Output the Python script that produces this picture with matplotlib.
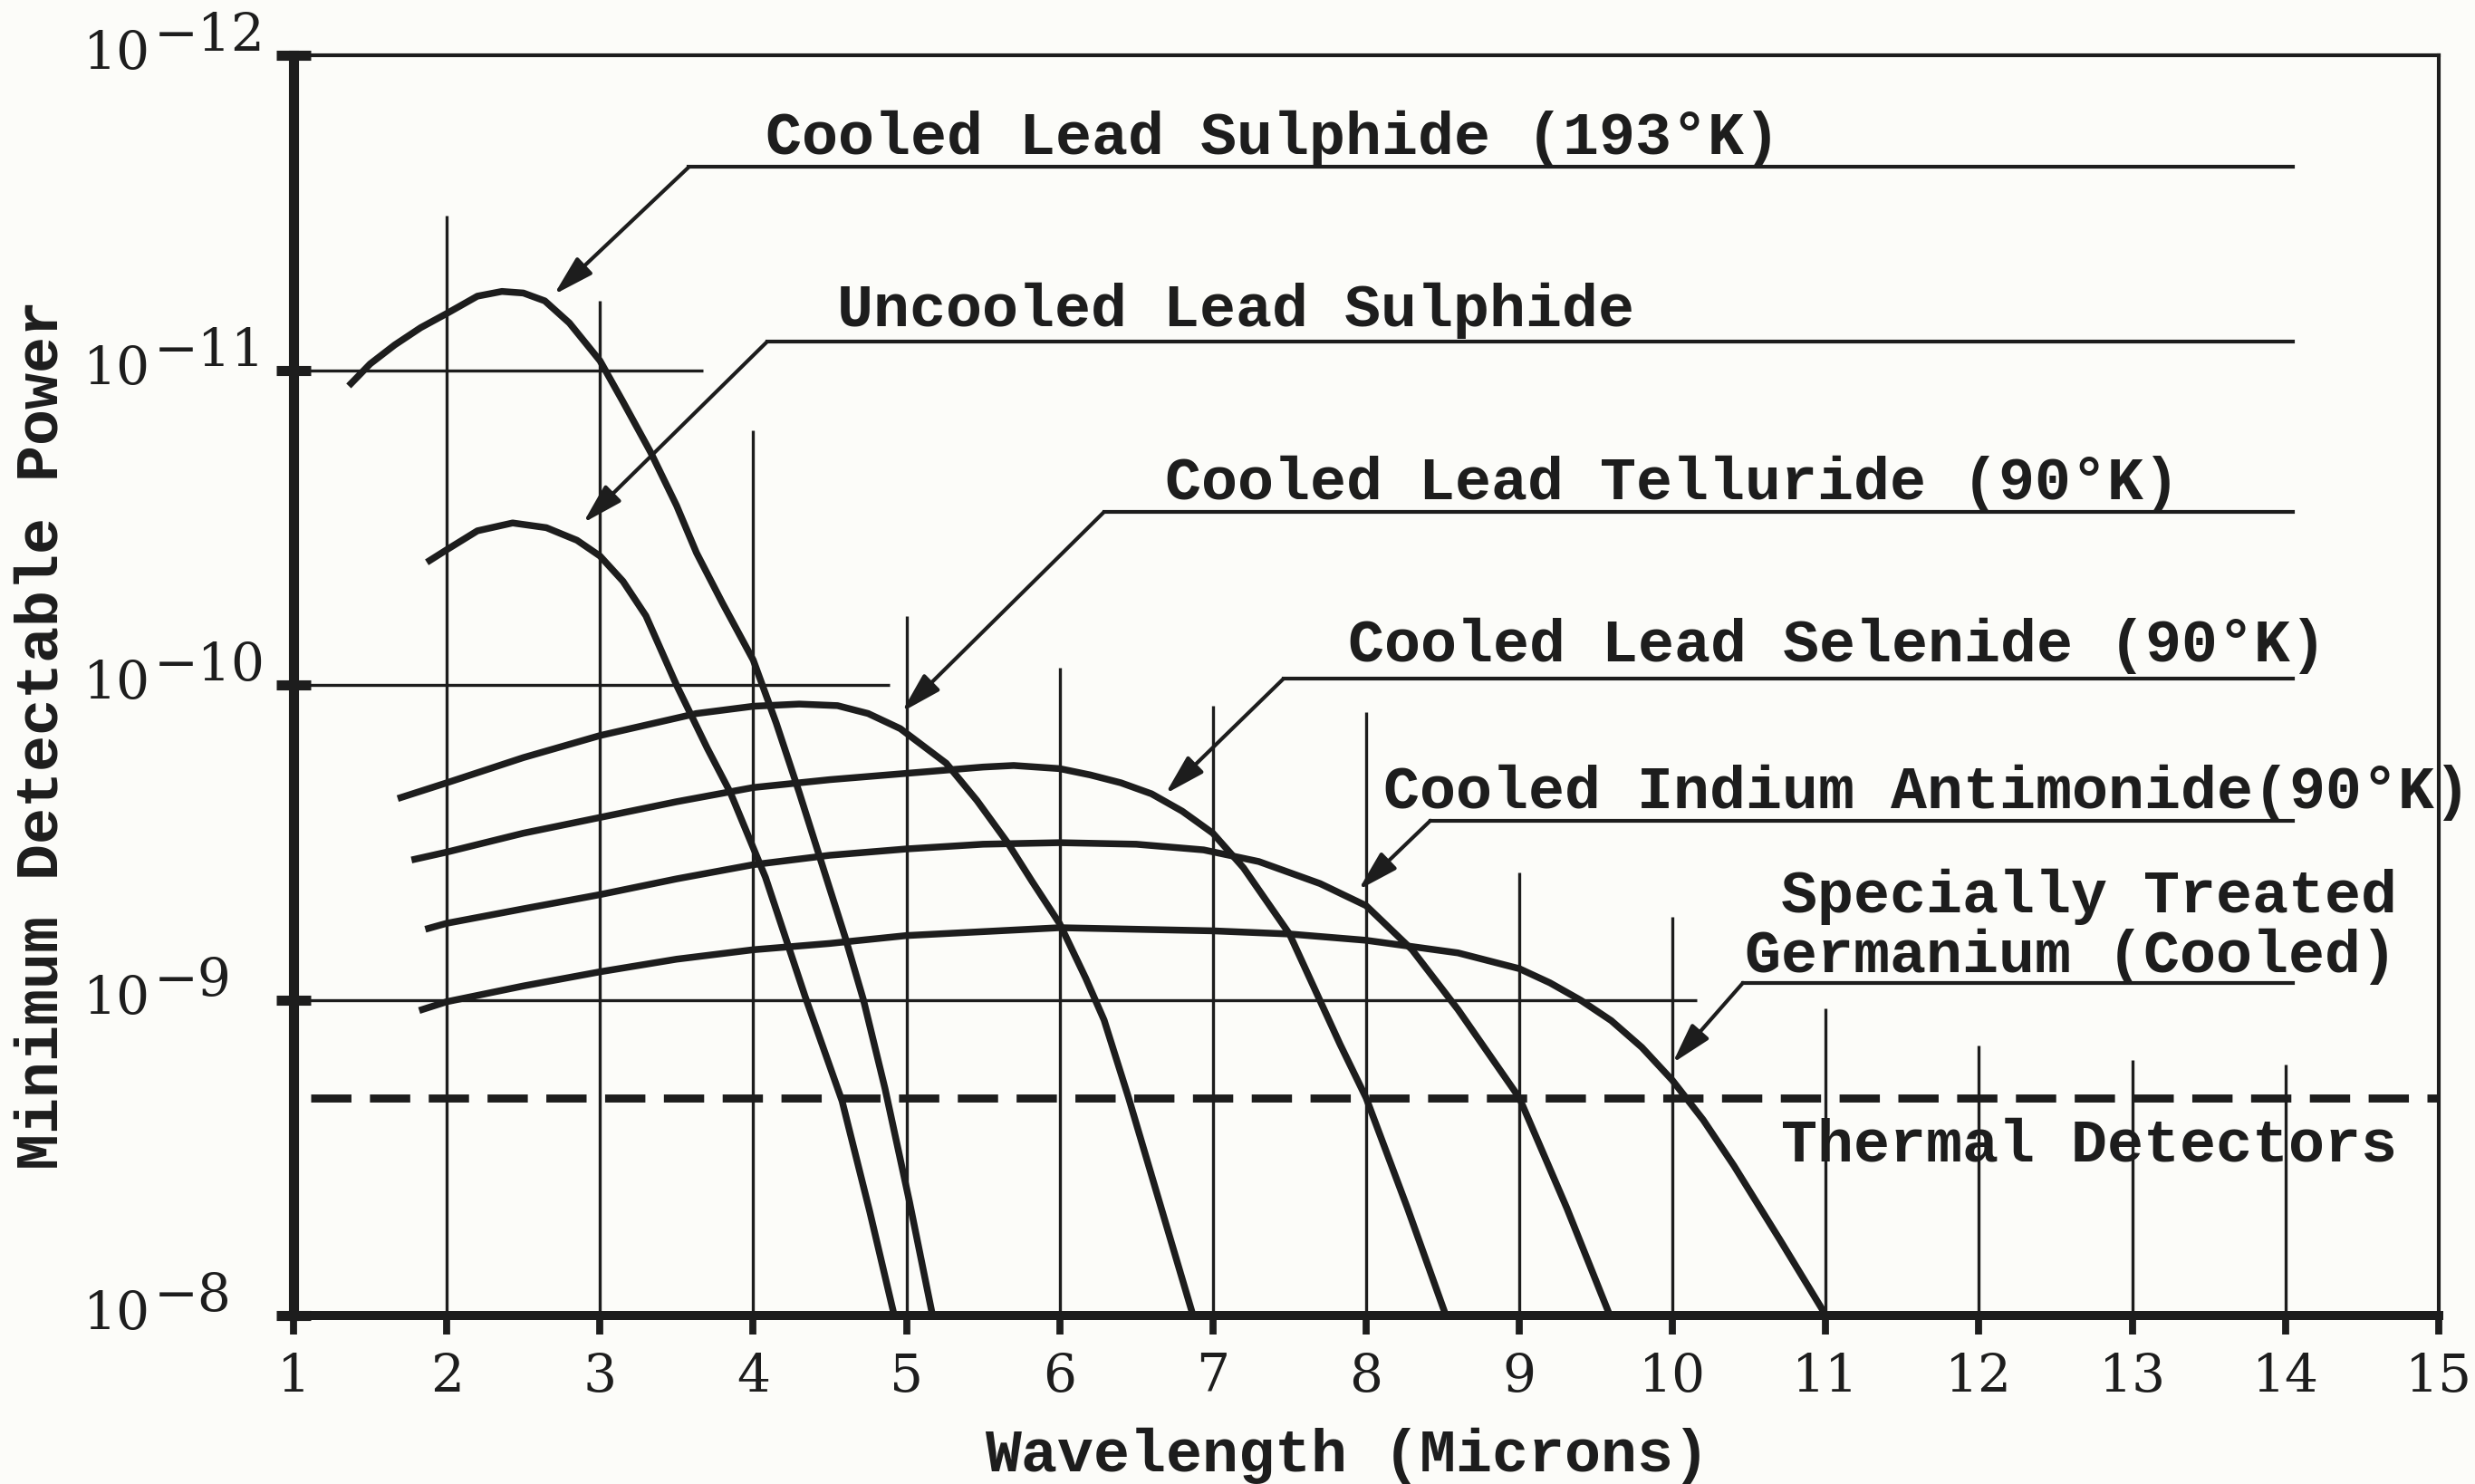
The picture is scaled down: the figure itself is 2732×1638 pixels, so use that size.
import numpy as np
import matplotlib
matplotlib.use('Agg')
import matplotlib.pyplot as plt
import matplotlib.transforms as mtransforms
from matplotlib.ticker import NullLocator

INK = '#1d1d1d'
PAPER = '#fcfcf9'
MONO = 'Liberation Mono'

# detector curves: wavelength (microns) and log10 of minimum detectable power
cooled_pbs_x = [1.36, 1.50, 1.66, 1.83, 2.00, 2.20, 2.36, 2.50, 2.64, 2.80, 3.00, 3.15,
                3.33, 3.50, 3.63, 3.80, 4.00, 4.15, 4.30, 4.45, 4.60, 4.72, 4.86, 5.02, 5.17]
cooled_pbs_e = [-10.95, -11.02, -11.08, -11.135, -11.18, -11.235, -11.25, -11.245, -11.22,
                -11.15, -11.03, -10.90, -10.74, -10.57, -10.42, -10.26, -10.08, -9.88,
                -9.66, -9.43, -9.20, -9.00, -8.72, -8.36, -8.00]

uncooled_pbs_x = [1.87, 2.00, 2.20, 2.43, 2.65, 2.85, 3.00, 3.15, 3.30, 3.50, 3.70, 3.85,
                  4.08, 4.34, 4.58, 4.76, 4.92]
uncooled_pbs_e = [-10.39, -10.43, -10.49, -10.515, -10.50, -10.46, -10.41, -10.33, -10.22,
                  -10.00, -9.80, -9.66, -9.39, -9.01, -8.68, -8.33, -8.00]

pbte_x = [1.68, 2.00, 2.50, 3.00, 3.63, 4.00, 4.30, 4.55, 4.75, 4.96, 5.26, 5.46, 5.66,
          5.82, 6.00, 6.17, 6.29, 6.45, 6.87]
pbte_e = [-9.64, -9.69, -9.77, -9.84, -9.91, -9.933, -9.94, -9.935, -9.91, -9.862, -9.752,
          -9.634, -9.50, -9.377, -9.243, -9.07, -8.937, -8.69, -8.00]

pbse_x = [1.77, 2.00, 2.50, 3.00, 3.50, 4.00, 4.50, 5.00, 5.50, 5.70, 6.00, 6.20, 6.40,
          6.60, 6.80, 7.00, 7.20, 7.50, 7.83, 8.00, 8.27, 8.52]
pbse_e = [-9.445, -9.47, -9.53, -9.58, -9.63, -9.675, -9.70, -9.72, -9.74, -9.745, -9.735,
          -9.715, -9.69, -9.655, -9.60, -9.53, -9.42, -9.21, -8.86, -8.69, -8.34, -8.00]

insb_x = [1.86, 2.00, 2.50, 3.00, 3.50, 4.00, 4.50, 5.00, 5.50, 6.00, 6.50, 6.94, 7.30,
          7.70, 8.00, 8.30, 8.60, 9.00, 9.31, 9.59]
insb_e = [-9.225, -9.244, -9.29, -9.335, -9.385, -9.43, -9.46, -9.48, -9.495, -9.50, -9.495,
          -9.477, -9.44, -9.37, -9.30, -9.16, -8.97, -8.69, -8.34, -8.00]

ge_x = [1.82, 2.00, 2.50, 3.00, 3.50, 4.00, 4.50, 5.00, 6.00, 7.00, 7.50, 8.00, 8.60,
        9.00, 9.20, 9.40, 9.60, 9.80, 10.00, 10.20, 10.40, 10.70, 11.00]
ge_e = [-8.967, -8.995, -9.045, -9.09, -9.13, -9.16, -9.18, -9.205, -9.23, -9.22, -9.21,
        -9.19, -9.15, -9.10, -9.055, -9.00, -8.935, -8.85, -8.745, -8.62, -8.475, -8.24,
        -8.00]

thermal_e = -8.69
thermal_x = [1.11, 15.0]

# partial grid lines
grid_vx = [2, 3, 4, 5, 6, 7, 8, 9, 10, 11, 12, 13, 14]
grid_vtop_e = [-11.49, -11.22, -10.81, -10.22, -10.055, -9.935, -9.915, -9.405, -9.265,
               -8.975, -8.855, -8.81, -8.795]
grid_he = [-11, -10, -9]
grid_hright = [3.67, 4.89, 10.16]

# annotation labels and leader arrows
label_texts = ['Cooled Lead Sulphide (193°K)', 'Uncooled Lead Sulphide',
               'Cooled Lead Telluride (90°K)', 'Cooled Lead Selenide (90°K)',
               'Cooled Indium Antimonide(90°K)']
label_x = [4.08, 4.55, 6.69, 7.88, 8.11]
label_e = [-11.685, -11.14, -10.59, -10.075, -9.61]
elbow_x = [3.58, 4.09, 6.29, 7.46, 8.42, 10.46]
elbow_e = [-11.645, -11.09, -10.55, -10.02, -9.57, -9.055]
tip_x = [2.70, 2.89, 4.97, 6.69, 7.95, 10.00]
tip_e = [-11.24, -10.515, -9.915, -9.655, -9.35, -8.80]
underline_end = 14.05

ge_lines = ['Specially Treated', 'Germanium (Cooled)']
ge_label_e = [-9.28, -9.09]
right_label_x = 14.73
thermal_label = 'Thermal Detectors'
thermal_label_e = -8.49

y_ticks_e = [-12, -11, -10, -9, -8]
x_ticks = list(range(1, 16))

plt.rcParams['font.family'] = 'DejaVu Serif'

fig = plt.figure(figsize=(13.66, 8.19), dpi=200, facecolor=PAPER)
ax = fig.add_axes([0.1186, 0.1138, 0.8667, 0.849])
ax.set_facecolor(PAPER)
ax.set_xlim(1, 15)
ax.set_yscale('log')
ax.set_ylim(1e-8, 1e-12)

p = lambda e: 10.0 ** np.asarray(e, dtype=float)

ax.vlines(grid_vx, 1e-8, p(grid_vtop_e), color=INK, lw=1.2, zorder=1)
ax.hlines(p(grid_he), 1, grid_hright, color=INK, lw=1.2, zorder=1)

for xs, es in [(cooled_pbs_x, cooled_pbs_e), (uncooled_pbs_x, uncooled_pbs_e),
               (pbte_x, pbte_e), (pbse_x, pbse_e), (insb_x, insb_e), (ge_x, ge_e)]:
    ax.plot(xs, p(es), color=INK, lw=2.7, solid_capstyle='butt',
            solid_joinstyle='round', zorder=3)

ax.plot(thermal_x, p([thermal_e, thermal_e]), color=INK, lw=3.2, dashes=(5.0, 2.3), zorder=3)

for i in range(len(elbow_x)):
    ax.plot([elbow_x[i], underline_end], p([elbow_e[i], elbow_e[i]]), color=INK, lw=1.5, zorder=2)
    ax.annotate('', xy=(tip_x[i], p(tip_e[i])), xytext=(elbow_x[i], p(elbow_e[i])),
                arrowprops=dict(arrowstyle='-|>,head_length=0.85,head_width=0.24',
                                mutation_scale=16, color=INK, lw=1.5,
                                shrinkA=0, shrinkB=0), zorder=2)

txt = dict(family=MONO, size=24, color=INK, weight='bold', va='baseline')
for s, x, e in zip(label_texts, label_x, label_e):
    ax.text(x, p(e), s, ha='left', **txt)
for s, e in zip(ge_lines, ge_label_e):
    ax.text(right_label_x, p(e), s, ha='right', **txt)
ax.text(right_label_x, p(thermal_label_e), thermal_label, ha='right', **txt)

ax.set_xticks(x_ticks)
ax.set_xticklabels([str(v) for v in x_ticks])
ax.set_yticks(p(y_ticks_e))
ax.yaxis.set_minor_locator(NullLocator())
ax.tick_params(axis='x', direction='out', length=7.5, width=2.8, pad=7, labelsize=21,
               colors=INK)
ax.tick_params(axis='y', direction='inout', length=14, width=4, labelleft=False, colors=INK)

# y labels drawn as "10" with a full-size raised exponent, as in the original
blend = mtransforms.blended_transform_factory(ax.transAxes, ax.transData)
for e in y_ticks_e:
    ax.annotate('10', xy=(-0.098, p(e)), xycoords=blend, xytext=(0, -5.4),
                textcoords='offset points', ha='left', va='baseline', size=21,
                color=INK, annotation_clip=False)
    ax.annotate('\u2212%d' % -e, xy=(-0.098, p(e)), xycoords=blend, xytext=(28, 1.8),
                textcoords='offset points', ha='left', va='baseline', size=21,
                color=INK, annotation_clip=False)

for side, lw in [('left', 4.0), ('bottom', 3.6), ('top', 1.5), ('right', 1.5)]:
    ax.spines[side].set_linewidth(lw)
    ax.spines[side].set_color(INK)

ax.set_xlabel('Wavelength (Microns)', family=MONO, size=24, color=INK, weight='bold',
              va='center')
ax.xaxis.set_label_coords(0.491, -0.1115)
ax.set_ylabel('Minimum Detectable Power', family=MONO, size=24, color=INK, weight='bold',
              va='center')
ax.yaxis.set_label_coords(-0.1174, 0.461)

fig.savefig('out.png', dpi=200, facecolor=PAPER)
